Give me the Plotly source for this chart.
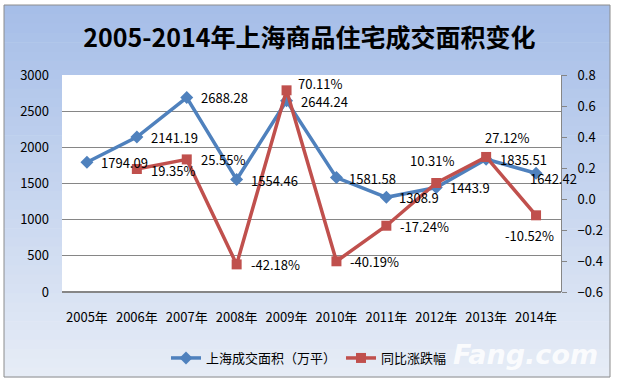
import plotly.graph_objects as go

years = ["2005年", "2006年", "2007年", "2008年", "2009年", "2010年", "2011年", "2012年", "2013年", "2014年"]
area = [1794.09, 2141.19, 2688.28, 1554.46, 2644.24, 1581.58, 1308.9, 1443.9, 1835.51, 1642.42]
yoy = [None, 0.1935, 0.2555, -0.4218, 0.7011, -0.4019, -0.1724, 0.1031, 0.2712, -0.1052]
area_labels = ["1794.09", "2141.19", "2688.28", "1554.46", "2644.24", "1581.58", "1308.9", "1443.9", "1835.51", "1642.42"]
yoy_labels = ["", "19.35%", "25.55%", "-42.18%", "70.11%", "-40.19%", "-17.24%", "10.31%", "27.12%", "-10.52%"]

# label offsets in pixels (dx right, dy down) from each point, left-anchored
area_off = [(12, 0), (12, 0), (12, 0), (12, 1), (12, 1), (11, 1), (11, 0), (12, 0), (12, 0), (-8, 5)]
yoy_off = [(0, 0), (12, 1), (12, 0), (12, 0), (9, -7), (12, 0), (12, 1), (-28, -23), (-3, -19), (-33, 20)]

W, H = 619, 380
L, R, T, B = 62, 561, 75, 292
pw, ph = R - L, B - T

def px(x):
    return (x - L) / pw

def py(y):
    return (B - y) / ph

FONT = "Noto Sans CJK SC, Noto Sans, sans-serif"

fig = go.Figure()
fig.add_trace(go.Scatter(
    x=years, y=area, name="上海成交面积（万平）", mode="lines+markers",
    line=dict(color="#4F81BD", width=3.5),
    marker=dict(symbol="diamond", size=10, color="#4F81BD"),
    cliponaxis=False,
))
fig.add_trace(go.Scatter(
    x=years, y=yoy, name="同比涨跌幅", mode="lines+markers", yaxis="y2",
    line=dict(color="#C0504D", width=3.5),
    marker=dict(symbol="square", size=10, color="#C0504D"),
    cliponaxis=False, connectgaps=False,
))

annotations = []
for xv, yv, lab, (dx, dy) in zip(years, area, area_labels, area_off):
    annotations.append(dict(x=xv, y=yv, xref="x", yref="y", text=lab, showarrow=False,
                            xanchor="left", yanchor="middle", xshift=dx, yshift=-dy,
                            font=dict(size=13, color="#000000", family=FONT)))
for xv, yv, lab, (dx, dy) in zip(years, yoy, yoy_labels, yoy_off):
    if yv is None:
        continue
    annotations.append(dict(x=xv, y=yv, xref="x", yref="y2", text=lab, showarrow=False,
                            xanchor="left", yanchor="middle", xshift=dx, yshift=-dy,
                            font=dict(size=13, color="#000000", family=FONT)))
annotations.append(dict(text="<b><i>Fang.com</i></b>", xref="paper", yref="paper",
                        x=px(600), y=py(354), xanchor="right", yanchor="middle",
                        showarrow=False,
                        font=dict(size=27, color="rgba(255,255,255,0.85)", family="DejaVu Sans")))

shapes = []
# gradient chart-area background
x0, x1 = px(4), px(610)
ytop, ybot = 5, 377
n = 40
c_top = (166, 190, 232)
c_bot = (230, 236, 246)
for i in range(n):
    f = i / (n - 1)
    c = tuple(int(round(c_top[k] + (c_bot[k] - c_top[k]) * f)) for k in range(3))
    ya = ytop + (ybot - ytop) * i / n
    yb = ytop + (ybot - ytop) * (i + 1) / n + 0.6
    shapes.append(dict(type="rect", xref="paper", yref="paper", layer="below",
                       x0=x0, x1=x1, y0=py(yb), y1=py(ya),
                       line=dict(width=0), fillcolor="rgb(%d,%d,%d)" % c))
shapes.append(dict(type="rect", xref="paper", yref="paper", layer="below",
                   x0=x0, x1=x1, y0=py(ybot), y1=py(ytop),
                   line=dict(width=1, color="#8C8C8C"), fillcolor="rgba(0,0,0,0)"))
# white plot area
shapes.append(dict(type="rect", xref="paper", yref="paper", layer="below",
                   x0=0, x1=1, y0=0, y1=1, line=dict(width=0), fillcolor="white"))

fig.update_layout(
    width=W, height=H,
    margin=dict(l=L, r=W - R, t=T, b=H - B, autoexpand=False),
    paper_bgcolor="white", plot_bgcolor="white",
    font=dict(family=FONT, size=13, color="#000000"),
    title=dict(text="<b>2005-2014年上海商品住宅成交面积变化</b>", x=0.5, xanchor="center",
               y=1 - 38 / H, yanchor="middle",
               font=dict(size=25, family=FONT, color="#000000")),
    xaxis=dict(type="category", showgrid=False, showline=False, ticks="", automargin=False,
               ticklabelstandoff=16, tickfont=dict(size=13), range=[-0.5, 9.5]),
    yaxis=dict(range=[0, 3000], dtick=500, showgrid=True, gridcolor="#868686", gridwidth=1,
               zeroline=True, zerolinecolor="#868686", showline=False, ticks="", automargin=False,
               ticklabelstandoff=12, tickfont=dict(size=13)),
    yaxis2=dict(range=[-0.6, 0.8], dtick=0.2, overlaying="y", side="right", showgrid=False,
                zeroline=False, showline=True, linecolor="#868686", ticks="outside",
                ticklen=5, tickcolor="#868686", ticklabelstandoff=8, automargin=False,
                tickfont=dict(size=13), tickformat=".1f"),
    legend=dict(orientation="h", x=px(309), xanchor="center", y=py(358), yanchor="middle",
                font=dict(size=13), bgcolor="rgba(0,0,0,0)"),
    showlegend=True,
    shapes=shapes,
    annotations=annotations,
)

fig.write_html("out.html")
